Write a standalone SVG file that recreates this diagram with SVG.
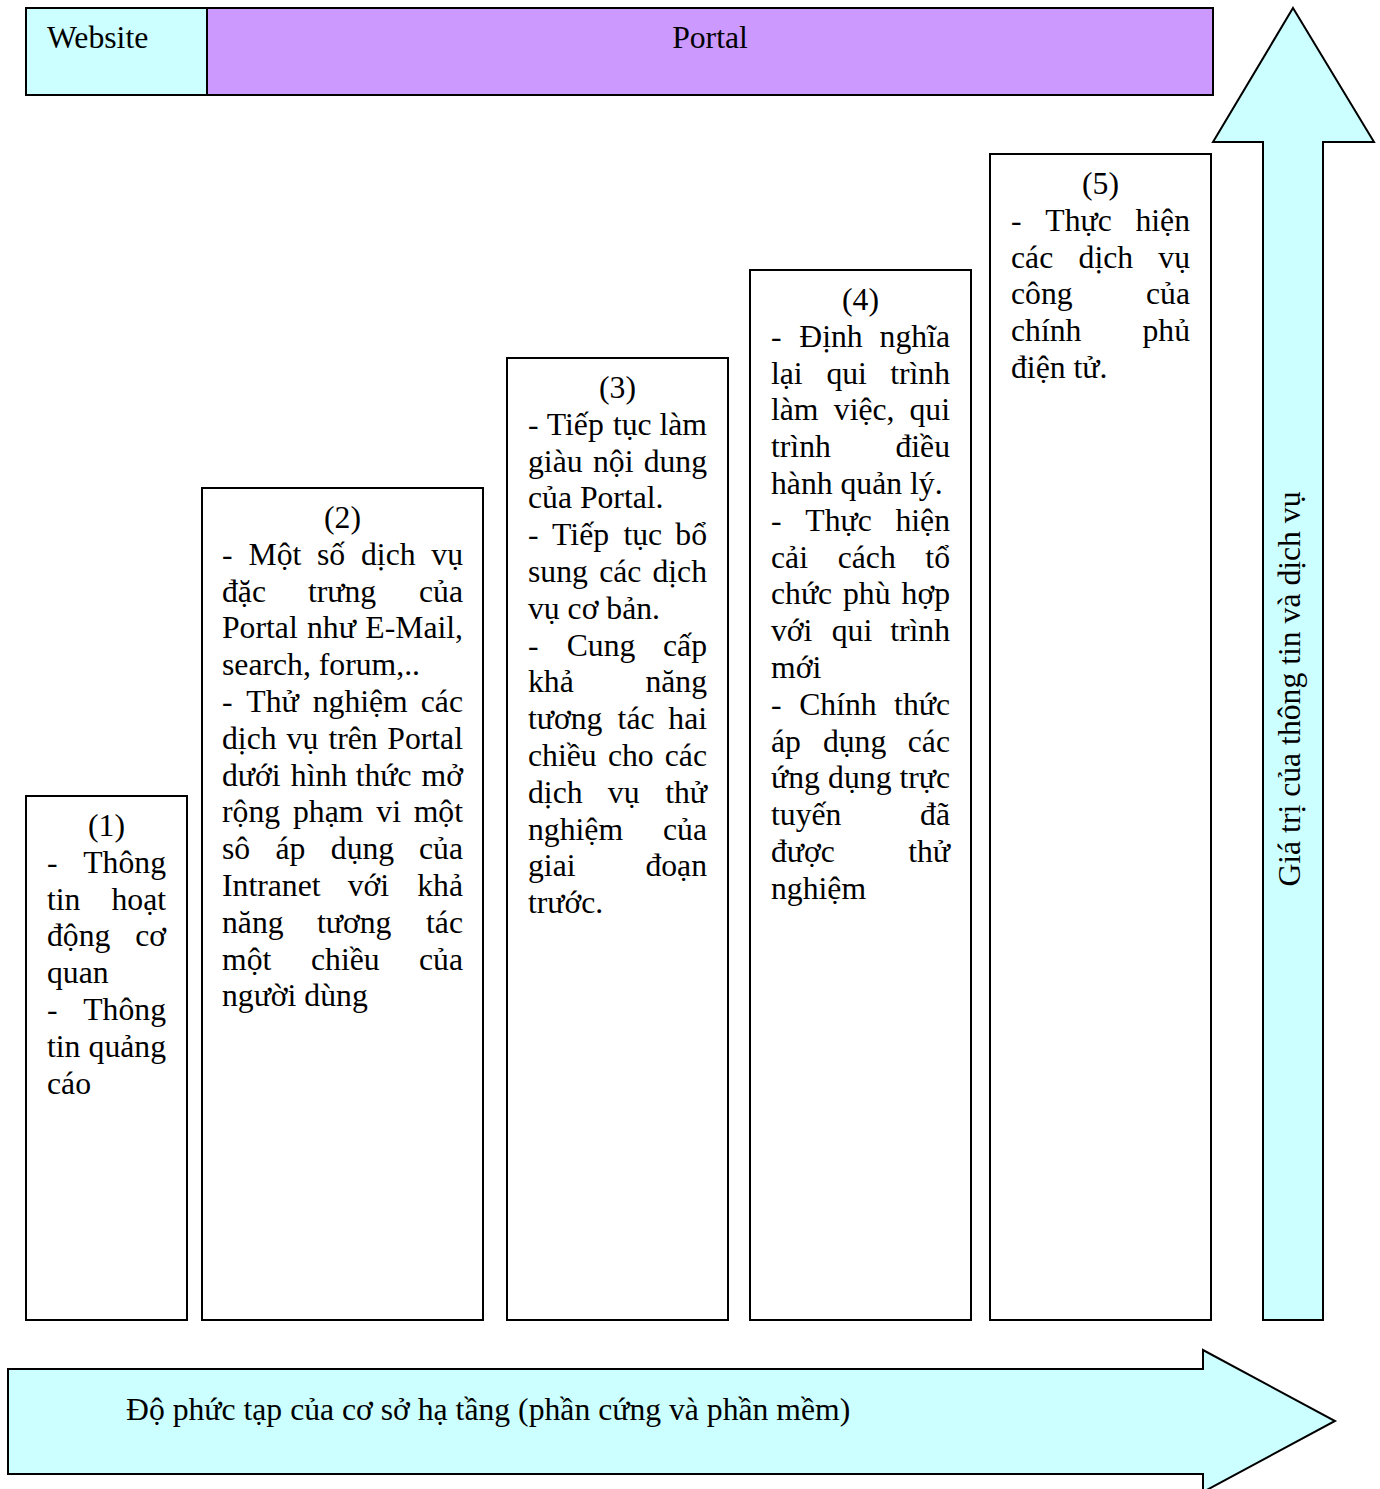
<svg xmlns="http://www.w3.org/2000/svg" width="1380" height="1489" viewBox="0 0 1380 1489">
<style>
.box{fill:#fff;stroke:#000;stroke-width:2}
.cyan{fill:#CCFFFF;stroke:#000;stroke-width:2;stroke-linejoin:miter}
.purple{fill:#CC99FF;stroke:#000;stroke-width:2}
.t{font-family:"Liberation Serif","Times New Roman",serif;font-size:31.7px;fill:#000}
.e{text-anchor:end}
.m{text-anchor:middle}
</style>
<rect width="1380" height="1489" fill="#fff"/>
<g id="connectors"/>
<g id="website">
<rect class="cyan" x="26" y="8" width="181" height="87"/>
<text class="t" x="47" y="48">Website</text>
</g>
<g id="portal">
<rect class="purple" x="207" y="8" width="1006" height="87"/>
<text class="t m" x="710" y="48">Portal</text>
</g>
<g id="value-arrow">
<polygon class="cyan" points="1293,8 1374,142 1323,142 1323,1320 1263,1320 1263,142 1213,142"/>
<text class="t m" transform="translate(1300,689) rotate(-90)">Giá trị của thông tin và dịch vụ</text>
</g>
<g id="complexity-arrow">
<polygon class="cyan" points="8,1369 1203,1369 1203,1350 1335,1421 1203,1492 1203,1474 8,1474"/>
<text class="t" x="126" y="1420">Độ phức tạp của cơ sở hạ tầng (phần cứng và phần mềm)</text>
</g>
<g id="stage1">
<rect class="box" x="26" y="796" width="161" height="524"/>
<text class="t m" x="106.5" y="836">(1)</text>
<text class="t" y="872.8"><tspan x="47">-</tspan><tspan x="166" class="e">Thông</tspan></text>
<text class="t" y="909.6"><tspan x="47">tin</tspan><tspan x="166" class="e">hoạt</tspan></text>
<text class="t" y="946.4"><tspan x="47">động</tspan><tspan x="166" class="e">cơ</tspan></text>
<text class="t" x="47" y="983.2">quan</text>
<text class="t" y="1020"><tspan x="47">-</tspan><tspan x="166" class="e">Thông</tspan></text>
<text class="t" y="1056.8"><tspan x="47">tin</tspan><tspan x="166" class="e">quảng</tspan></text>
<text class="t" x="47" y="1093.6">cáo</text>
</g>
<g id="stage2">
<rect class="box" x="202" y="488" width="281" height="832"/>
<text class="t m" x="342.5" y="528">(2)</text>
<text class="t" y="564.8"><tspan x="222">-</tspan><tspan x="248.6">Một</tspan><tspan x="317">số</tspan><tspan x="361">dịch</tspan><tspan x="463" class="e">vụ</tspan></text>
<text class="t" y="601.6"><tspan x="222">đặc</tspan><tspan x="308">trưng</tspan><tspan x="463" class="e">của</tspan></text>
<text class="t" y="638.4"><tspan x="222">Portal</tspan><tspan x="307">như</tspan><tspan x="463" class="e">E-Mail,</tspan></text>
<text class="t" x="222" y="675.2">search, forum,..</text>
<text class="t" y="712"><tspan x="222">-</tspan><tspan x="246.3">Thử</tspan><tspan x="312.7">nghiệm</tspan><tspan x="463" class="e">các</tspan></text>
<text class="t" y="748.8"><tspan x="222">dịch</tspan><tspan x="286.6">vụ</tspan><tspan x="328.4">trên</tspan><tspan x="463" class="e">Portal</tspan></text>
<text class="t" y="785.6"><tspan x="222">dưới</tspan><tspan x="290.8">hình</tspan><tspan x="355.7">thức</tspan><tspan x="463" class="e">mở</tspan></text>
<text class="t" y="822.4"><tspan x="222">rộng</tspan><tspan x="293">phạm</tspan><tspan x="376.3">vi</tspan><tspan x="463" class="e">một</tspan></text>
<text class="t" y="859.2"><tspan x="222">sô</tspan><tspan x="275.5">áp</tspan><tspan x="330.8">dụng</tspan><tspan x="463" class="e">của</tspan></text>
<text class="t" y="896"><tspan x="222">Intranet</tspan><tspan x="347.7">với</tspan><tspan x="463" class="e">khả</tspan></text>
<text class="t" y="932.8"><tspan x="222">năng</tspan><tspan x="317">tương</tspan><tspan x="463" class="e">tác</tspan></text>
<text class="t" y="969.6"><tspan x="222">một</tspan><tspan x="311">chiều</tspan><tspan x="463" class="e">của</tspan></text>
<text class="t" x="222" y="1006.4">người dùng</text>
</g>
<g id="stage3">
<rect class="box" x="507" y="358" width="221" height="962"/>
<text class="t m" x="617.5" y="398">(3)</text>
<text class="t" y="434.8"><tspan x="528">-</tspan><tspan x="546.8">Tiếp</tspan><tspan x="612.9">tục</tspan><tspan x="707" class="e">làm</tspan></text>
<text class="t" y="471.6"><tspan x="528">giàu</tspan><tspan x="593">nội</tspan><tspan x="707" class="e">dung</tspan></text>
<text class="t" x="528" y="508.4">của Portal.</text>
<text class="t" y="545.2"><tspan x="528">-</tspan><tspan x="552.1">Tiếp</tspan><tspan x="623.4">tục</tspan><tspan x="707" class="e">bổ</tspan></text>
<text class="t" y="582"><tspan x="528">sung</tspan><tspan x="599.2">các</tspan><tspan x="707" class="e">dịch</tspan></text>
<text class="t" x="528" y="618.8">vụ cơ bản.</text>
<text class="t" y="655.6"><tspan x="528">-</tspan><tspan x="566.7">Cung</tspan><tspan x="707" class="e">cấp</tspan></text>
<text class="t" y="692.4"><tspan x="528">khả</tspan><tspan x="707" class="e">năng</tspan></text>
<text class="t" y="729.2"><tspan x="528">tương</tspan><tspan x="617.6">tác</tspan><tspan x="707" class="e">hai</tspan></text>
<text class="t" y="766"><tspan x="528">chiều</tspan><tspan x="607.9">cho</tspan><tspan x="707" class="e">các</tspan></text>
<text class="t" y="802.8"><tspan x="528">dịch</tspan><tspan x="607.8">vụ</tspan><tspan x="707" class="e">thử</tspan></text>
<text class="t" y="839.6"><tspan x="528">nghiệm</tspan><tspan x="707" class="e">của</tspan></text>
<text class="t" y="876.4"><tspan x="528">giai</tspan><tspan x="707" class="e">đoạn</tspan></text>
<text class="t" x="528" y="913.2">trước.</text>
</g>
<g id="stage4">
<rect class="box" x="750" y="270" width="221" height="1050"/>
<text class="t m" x="860.5" y="310">(4)</text>
<text class="t" y="346.8"><tspan x="771">-</tspan><tspan x="799.3">Định</tspan><tspan x="950" class="e">nghĩa</tspan></text>
<text class="t" y="383.6"><tspan x="771">lại</tspan><tspan x="826.4">qui</tspan><tspan x="950" class="e">trình</tspan></text>
<text class="t" y="420.4"><tspan x="771">làm</tspan><tspan x="833.8">việc,</tspan><tspan x="950" class="e">qui</tspan></text>
<text class="t" y="457.2"><tspan x="771">trình</tspan><tspan x="950" class="e">điều</tspan></text>
<text class="t" x="771" y="494">hành quản lý.</text>
<text class="t" y="530.8"><tspan x="771">-</tspan><tspan x="805.3">Thực</tspan><tspan x="950" class="e">hiện</tspan></text>
<text class="t" y="567.6"><tspan x="771">cải</tspan><tspan x="837.7">cách</tspan><tspan x="950" class="e">tổ</tspan></text>
<text class="t" y="604.4"><tspan x="771">chức</tspan><tspan x="843">phù</tspan><tspan x="950" class="e">hợp</tspan></text>
<text class="t" y="641.2"><tspan x="771">với</tspan><tspan x="831.7">qui</tspan><tspan x="950" class="e">trình</tspan></text>
<text class="t" x="771" y="678">mới</text>
<text class="t" y="714.8"><tspan x="771">-</tspan><tspan x="799.2">Chính</tspan><tspan x="950" class="e">thức</tspan></text>
<text class="t" y="751.6"><tspan x="771">áp</tspan><tspan x="822.9">dụng</tspan><tspan x="950" class="e">các</tspan></text>
<text class="t" y="788.4"><tspan x="771">ứng</tspan><tspan x="828.1">dụng</tspan><tspan x="950" class="e">trực</tspan></text>
<text class="t" y="825.2"><tspan x="771">tuyến</tspan><tspan x="950" class="e">đã</tspan></text>
<text class="t" y="862"><tspan x="771">được</tspan><tspan x="950" class="e">thử</tspan></text>
<text class="t" x="771" y="898.8">nghiệm</text>
</g>
<g id="stage5">
<rect class="box" x="990" y="154" width="221" height="1166"/>
<text class="t m" x="1100.5" y="194">(5)</text>
<text class="t" y="230.8"><tspan x="1011">-</tspan><tspan x="1045.3">Thực</tspan><tspan x="1190" class="e">hiện</tspan></text>
<text class="t" y="267.6"><tspan x="1011">các</tspan><tspan x="1078.6">dịch</tspan><tspan x="1190" class="e">vụ</tspan></text>
<text class="t" y="304.4"><tspan x="1011">công</tspan><tspan x="1190" class="e">của</tspan></text>
<text class="t" y="341.2"><tspan x="1011">chính</tspan><tspan x="1190" class="e">phủ</tspan></text>
<text class="t" x="1011" y="378">điện tử.</text>
</g>
</svg>
